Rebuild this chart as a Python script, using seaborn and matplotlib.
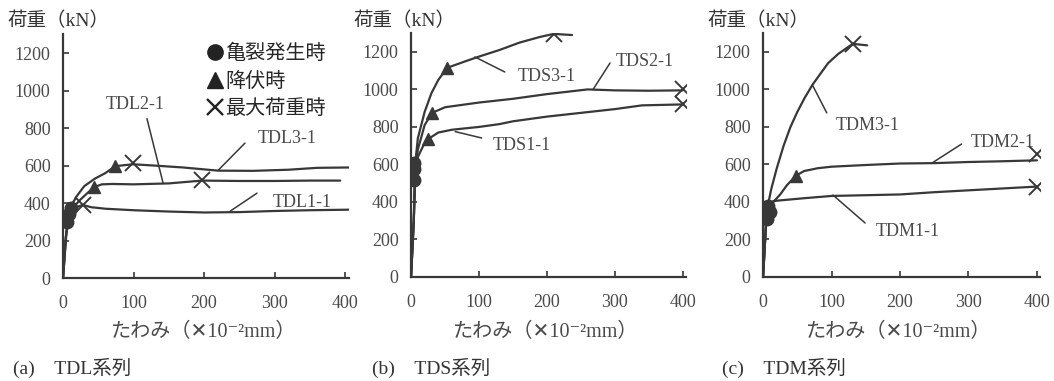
import matplotlib
matplotlib.use("Agg")
import matplotlib.pyplot as plt
import seaborn as sns
from matplotlib.lines import Line2D

sns.set_style("ticks")
plt.rcParams["font.family"] = ["Liberation Serif", "Noto Sans CJK JP", "DejaVu Sans"]

LINE = "#383838"
TXT = "#4a4a4a"

# (a) TDL系列
tdl1_x = [0, 4, 6, 10, 20, 28, 40, 60, 100, 150, 200, 250, 300, 350, 407]
tdl1_y = [0, 200, 300, 350, 380, 390, 378, 370, 362, 355, 350, 352, 358, 362, 365]
tdl2_x = [0, 4, 8, 15, 25, 35, 44, 55, 70, 100, 150, 197, 250, 300, 350, 393]
tdl2_y = [0, 220, 320, 380, 420, 455, 485, 500, 502, 500, 505, 520, 518, 518, 520, 520]
tdl3_x = [0, 4, 8, 12, 20, 30, 45, 60, 74, 99, 130, 170, 220, 270, 320, 360, 407]
tdl3_y = [0, 220, 330, 390, 440, 490, 530, 560, 597, 607, 600, 590, 573, 572, 578, 588, 590]
tdl_crack_x = [5, 8, 11]
tdl_crack_y = [300, 340, 372]
tdl_yield_x = [44, 74]
tdl_yield_y = [485, 597]
tdl_max_x = [28, 99, 197]
tdl_max_y = [389, 613, 523]

# (b) TDS系列
tds1_x = [0, 4, 6, 10, 18, 25, 40, 60, 100, 130, 150, 200, 250, 300, 340, 400]
tds1_y = [0, 300, 510, 640, 700, 735, 770, 785, 800, 815, 830, 855, 875, 895, 915, 920]
tds2_x = [0, 4, 6, 10, 20, 31, 50, 100, 150, 200, 260, 300, 350, 400]
tds2_y = [0, 300, 570, 680, 810, 875, 905, 930, 950, 975, 1000, 995, 993, 995]
tds3_x = [0, 4, 6, 10, 20, 30, 40, 53, 80, 100, 130, 160, 190, 210, 237]
tds3_y = [0, 300, 600, 740, 880, 980, 1050, 1115, 1150, 1175, 1210, 1250, 1280, 1296, 1290]
tds_crack_x = [5, 5, 5]
tds_crack_y = [517, 575, 608]
tds_yield_x = [25, 31, 53]
tds_yield_y = [735, 875, 1115]
tds_max_x = [400, 400, 210]
tds_max_y = [920, 1003, 1296]

# (c) TDM系列
tdm1_x = [0, 3, 5, 8, 15, 30, 60, 100, 150, 200, 250, 300, 350, 400]
tdm1_y = [0, 200, 310, 380, 405, 410, 420, 432, 436, 440, 452, 462, 472, 482]
tdm2_x = [0, 3, 5, 8, 15, 25, 35, 48, 60, 80, 100, 150, 200, 250, 300, 350, 400]
tdm2_y = [0, 200, 330, 370, 400, 440, 490, 540, 565, 580, 588, 597, 605, 607, 613, 617, 622]
tdm3_x = [0, 3, 5, 8, 12, 20, 30, 40, 50, 60, 72, 85, 95, 110, 131, 152]
tdm3_y = [0, 200, 360, 400, 470, 580, 700, 800, 880, 950, 1024, 1090, 1140, 1190, 1243, 1235]
tdm_crack_x = [5, 7, 10]
tdm_crack_y = [310, 380, 345]
tdm_yield_x = [48]
tdm_yield_y = [540]
tdm_max_x = [400, 400, 131]
tdm_max_y = [482, 655, 1243]

x_ticks = [0, 100, 200, 300, 400]
y_ticks = [0, 200, 400, 600, 800, 1000, 1200]

panels = [
    dict(pos=[0.0598, 0.270, 0.271, 0.640], captx=0.012, ylx=0.007, xlx=0.193, cap="(a)\u3000TDL系列",
         curves=[(tdl1_x, tdl1_y), (tdl2_x, tdl2_y), (tdl3_x, tdl3_y)],
         crack=(tdl_crack_x, tdl_crack_y), yld=(tdl_yield_x, tdl_yield_y), mx=(tdl_max_x, tdl_max_y),
         notes=[("TDL2-1", (102, 928), (119, 850), (142, 505)),
                ("TDL3-1", (318, 747), (258, 720), (220, 575)),
                ("TDL1-1", (339, 405), (275, 453), (237, 357))]),
    dict(pos=[0.390, 0.273, 0.261, 0.640], captx=0.353, ylx=0.335, xlx=0.518, cap="(b)\u3000TDS系列",
         curves=[(tds1_x, tds1_y), (tds2_x, tds2_y), (tds3_x, tds3_y)],
         crack=(tds_crack_x, tds_crack_y), yld=(tds_yield_x, tds_yield_y), mx=(tds_max_x, tds_max_y),
         notes=[("TDS3-1", (200, 1067), (138, 1093), (94, 1173)),
                ("TDS2-1", (344, 1147), (293, 1141), (268, 1000)),
                ("TDS1-1", (163, 699), (104, 741), (65, 775))]),
    dict(pos=[0.724, 0.273, 0.263, 0.640], captx=0.685, ylx=0.671, xlx=0.853, cap="(c)\u3000TDM系列",
         curves=[(tdm1_x, tdm1_y), (tdm2_x, tdm2_y), (tdm3_x, tdm3_y)],
         crack=(tdm_crack_x, tdm_crack_y), yld=(tdm_yield_x, tdm_yield_y), mx=(tdm_max_x, tdm_max_y),
         notes=[("TDM3-1", (153, 805), (93, 875), (72, 1024)),
                ("TDM2-1", (350, 715), (290, 709), (247, 608)),
                ("TDM1-1", (212, 240), (149, 288), (102, 437))]),
]

fig = plt.figure(figsize=(10.54, 3.81), dpi=100)

for p in panels:
    ax = fig.add_axes(p["pos"])
    for cx, cy in p["curves"]:
        sns.lineplot(x=cx, y=cy, ax=ax, sort=False, estimator=None, color=LINE, lw=1.6)
    ax.plot(p["crack"][0], p["crack"][1], "o", color=LINE, ms=9, ls="none")
    ax.plot(p["yld"][0], p["yld"][1], "^", color=LINE, ms=9, ls="none")
    ax.plot(p["mx"][0], p["mx"][1], "x", color=LINE, ms=11, mew=1.4, ls="none")
    for label, txy, p0, p1 in p["notes"]:
        ax.text(txy[0], txy[1], label, ha="center", va="center", fontsize=13, color=TXT)
        ax.annotate("", xy=p1, xytext=p0,
                    arrowprops=dict(arrowstyle="-", color=LINE, lw=1.1, shrinkA=0, shrinkB=0))
    ax.set_xlim(0, 405)
    ax.set_ylim(0, 1300)
    ax.set_xticks(x_ticks)
    ax.set_yticks(y_ticks)
    ax.tick_params(direction="in", length=4, width=1.2, colors=LINE, labelcolor=TXT, labelsize=13)
    ax.tick_params(axis="y", pad=9)
    ax.tick_params(axis="x", pad=12)
    sns.despine(ax=ax)
    for s in ["left", "bottom"]:
        ax.spines[s].set_color(LINE)
        ax.spines[s].set_linewidth(1.6)
    fig.text(p["ylx"], 0.945, "荷重（kN）", fontsize=14, color="#333333", va="center", ha="left")
    fig.text(p["xlx"], 0.128, "たわみ（✕10⁻²mm）", fontsize=14.5, color=TXT, va="center", ha="center")
    fig.text(p["captx"], 0.035, p["cap"], fontsize=14, color="#333333", va="center", ha="left")

    if p["cap"].startswith("(a)"):
        handles = [Line2D([], [], marker="o", color="#222222", ls="none", ms=11),
                   Line2D([], [], marker="^", color="#222222", ls="none", ms=11),
                   Line2D([], [], marker="x", color="#222222", ls="none", ms=11, mew=1.7)]
        ax.legend(handles, ["亀裂発生時", "降伏時", "最大荷重時"], loc="upper left",
                  bbox_to_anchor=(0.475, 0.99), frameon=False, fontsize=14.5,
                  handlelength=0.8, handletextpad=0.1, labelspacing=0.42, borderaxespad=0)

fig.savefig("out.png", dpi=100)
